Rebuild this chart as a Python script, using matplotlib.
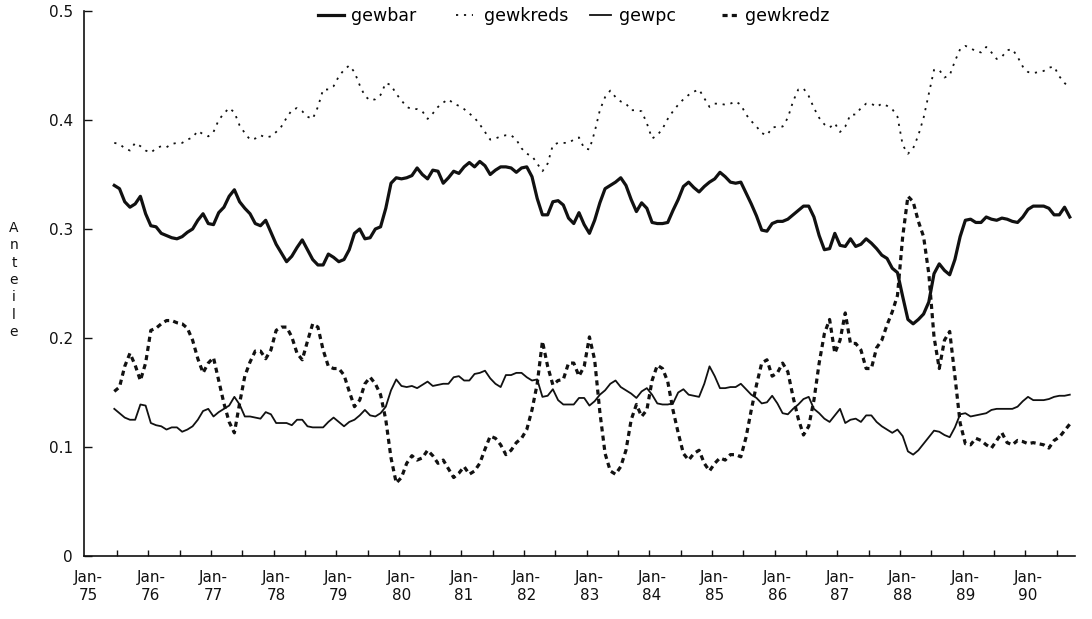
import numpy as np
import matplotlib
matplotlib.use("Agg")
import matplotlib.pyplot as plt

plt.rcParams['font.family'] = ['DejaVu Sans']

# months since Jan-1975 of first observation (Jun-1975), monthly data
start_month = 5

year_labels = ["Jan-\n75", "Jan-\n76", "Jan-\n77", "Jan-\n78", "Jan-\n79", "Jan-\n80",
               "Jan-\n81", "Jan-\n82", "Jan-\n83", "Jan-\n84", "Jan-\n85", "Jan-\n86",
               "Jan-\n87", "Jan-\n88", "Jan-\n89", "Jan-\n90"]

gewbar = [0.340, 0.337, 0.325, 0.320, 0.323, 0.330, 0.314, 0.303, 0.302, 0.296, 0.294, 0.292,
          0.291, 0.293, 0.297, 0.300, 0.308, 0.314, 0.305, 0.304, 0.315, 0.320, 0.330, 0.336,
          0.325, 0.319, 0.314, 0.305, 0.303, 0.308, 0.297, 0.286, 0.278, 0.270, 0.275, 0.283,
          0.290, 0.281, 0.272, 0.267, 0.267, 0.277, 0.274, 0.270, 0.272, 0.281, 0.296, 0.300,
          0.291, 0.292, 0.300, 0.302, 0.319, 0.342, 0.347, 0.346, 0.347, 0.349, 0.356, 0.350,
          0.346, 0.354, 0.353, 0.342, 0.347, 0.353, 0.351, 0.357, 0.361, 0.357, 0.362, 0.358,
          0.350,
          0.354, 0.357, 0.357, 0.356, 0.352, 0.356, 0.357, 0.348, 0.328, 0.313, 0.313, 0.325,
          0.326, 0.322, 0.310, 0.305, 0.315, 0.304, 0.296, 0.308, 0.324, 0.337, 0.340, 0.343,
          0.347, 0.340, 0.327, 0.316, 0.324, 0.319, 0.306, 0.305, 0.305, 0.306, 0.317, 0.327,
          0.339, 0.343,
          0.338, 0.334, 0.339, 0.343, 0.346, 0.352, 0.348, 0.343, 0.342, 0.343, 0.333, 0.323,
          0.312, 0.299, 0.298, 0.305, 0.307, 0.307, 0.309, 0.313, 0.317, 0.321, 0.321, 0.311,
          0.294, 0.281, 0.282, 0.296, 0.285, 0.284, 0.291, 0.284, 0.286, 0.291, 0.287, 0.282,
          0.276,
          0.273, 0.264, 0.260, 0.238, 0.217, 0.213, 0.217, 0.222, 0.233, 0.259, 0.268, 0.262,
          0.258, 0.272, 0.293, 0.308, 0.309, 0.306, 0.306, 0.311, 0.309, 0.308, 0.310, 0.309,
          0.307, 0.306, 0.311, 0.318, 0.321, 0.321, 0.321, 0.319, 0.313, 0.313, 0.320, 0.311]

gewkreds = [0.379, 0.378, 0.374, 0.372, 0.379, 0.376, 0.372, 0.370, 0.374, 0.376, 0.375, 0.378,
            0.379, 0.379, 0.382, 0.384, 0.390, 0.387, 0.385, 0.389, 0.400, 0.406, 0.411, 0.407,
            0.395, 0.388, 0.382, 0.383, 0.386, 0.384, 0.385, 0.389, 0.394, 0.402, 0.409, 0.411,
            0.408, 0.403, 0.401, 0.412, 0.428, 0.428, 0.431, 0.440, 0.446, 0.450, 0.444, 0.432,
            0.422, 0.418, 0.419, 0.423, 0.434, 0.432, 0.424, 0.418, 0.412, 0.410, 0.410, 0.408,
            0.401, 0.406, 0.412, 0.416, 0.419, 0.415, 0.413, 0.410, 0.406, 0.402, 0.396, 0.389,
            0.382,
            0.383, 0.385, 0.386, 0.386, 0.382, 0.374, 0.369, 0.367, 0.360, 0.353, 0.360, 0.377,
            0.379, 0.379, 0.379, 0.382, 0.384, 0.374, 0.373, 0.389, 0.409, 0.421, 0.427, 0.421,
            0.417, 0.415, 0.409, 0.409, 0.408, 0.397, 0.383, 0.386, 0.392, 0.401, 0.408, 0.414,
            0.419, 0.423,
            0.426, 0.428, 0.420, 0.412, 0.415, 0.415, 0.414, 0.415, 0.417, 0.414, 0.405, 0.399,
            0.394, 0.388, 0.386, 0.393, 0.394, 0.394, 0.402, 0.417, 0.428, 0.429, 0.422, 0.411,
            0.402, 0.396, 0.393, 0.397, 0.389, 0.394, 0.405, 0.405, 0.411, 0.415, 0.415, 0.412,
            0.415,
            0.413, 0.410, 0.403, 0.377, 0.369, 0.374, 0.386, 0.402, 0.424, 0.446, 0.446, 0.439,
            0.441, 0.454, 0.465, 0.468, 0.466, 0.463, 0.462, 0.467, 0.462, 0.456, 0.458, 0.464,
            0.465, 0.458, 0.449, 0.444, 0.443, 0.444, 0.445, 0.448, 0.449, 0.440, 0.434, 0.429]

gewpc = [0.135, 0.131, 0.127, 0.125, 0.125, 0.139, 0.138, 0.122, 0.120, 0.119, 0.116, 0.118,
         0.118, 0.114, 0.116, 0.119, 0.125, 0.133, 0.135, 0.128, 0.132, 0.135, 0.138, 0.146,
         0.139, 0.128, 0.128, 0.127, 0.126, 0.132, 0.130, 0.122, 0.122, 0.122, 0.120, 0.125,
         0.125, 0.119, 0.118, 0.118, 0.118, 0.123, 0.127, 0.123, 0.119, 0.123, 0.125, 0.129,
         0.134, 0.129, 0.128, 0.131, 0.137, 0.152, 0.162, 0.156, 0.155, 0.156, 0.154, 0.157,
         0.160, 0.156, 0.157, 0.158, 0.158, 0.164, 0.165, 0.161, 0.161, 0.167, 0.168, 0.170,
         0.163,
         0.158, 0.155, 0.166, 0.166, 0.168, 0.168, 0.164, 0.161, 0.162, 0.146, 0.147, 0.153,
         0.143, 0.139, 0.139, 0.139, 0.145, 0.145, 0.138, 0.142, 0.148, 0.152, 0.158, 0.161,
         0.155, 0.152, 0.149, 0.145, 0.151, 0.154, 0.148, 0.140, 0.139, 0.139, 0.140, 0.150,
         0.153, 0.148,
         0.147, 0.146, 0.158, 0.174, 0.165, 0.154, 0.154, 0.155, 0.155, 0.158, 0.153, 0.148,
         0.145, 0.140, 0.141, 0.147, 0.140, 0.131, 0.130, 0.135, 0.139, 0.144, 0.146, 0.135,
         0.131, 0.126, 0.123, 0.129, 0.135, 0.122, 0.125, 0.126, 0.123, 0.129, 0.129, 0.123,
         0.119,
         0.116, 0.113, 0.116, 0.110, 0.096, 0.093, 0.097, 0.103, 0.109, 0.115, 0.114, 0.111,
         0.109, 0.118, 0.130, 0.131, 0.128, 0.129, 0.130, 0.131, 0.134, 0.135, 0.135, 0.135,
         0.135, 0.137, 0.142, 0.146, 0.143, 0.143, 0.143, 0.144, 0.146, 0.147, 0.147, 0.148]

gewkredz = [0.151, 0.155, 0.174, 0.186, 0.175, 0.161, 0.177, 0.207, 0.209, 0.213, 0.216, 0.216,
            0.214, 0.213, 0.209, 0.198, 0.181, 0.168, 0.177, 0.182, 0.161, 0.140, 0.123, 0.113,
            0.140, 0.165, 0.178, 0.188, 0.188, 0.181, 0.189, 0.207, 0.210, 0.210, 0.201, 0.186,
            0.180, 0.197, 0.213, 0.210, 0.189, 0.174, 0.172, 0.172, 0.166, 0.151, 0.137, 0.143,
            0.158, 0.164, 0.158, 0.148, 0.125, 0.090, 0.067, 0.072, 0.085, 0.092, 0.088, 0.090,
            0.097, 0.092, 0.085, 0.088, 0.080, 0.072, 0.076, 0.082, 0.075, 0.078, 0.085, 0.098,
            0.110,
            0.108, 0.102, 0.093, 0.097, 0.104, 0.108, 0.116, 0.134, 0.158, 0.197, 0.174, 0.157,
            0.161, 0.162, 0.177, 0.177, 0.165, 0.174, 0.201, 0.180, 0.132, 0.094, 0.078, 0.075,
            0.082, 0.097, 0.125, 0.139, 0.128, 0.134, 0.161, 0.175, 0.172, 0.160, 0.134, 0.113,
            0.094, 0.088,
            0.094, 0.097, 0.085, 0.078, 0.085, 0.090, 0.088, 0.093, 0.093, 0.091, 0.109, 0.134,
            0.157, 0.177, 0.180, 0.165, 0.168, 0.177, 0.169, 0.146, 0.126, 0.111, 0.119, 0.143,
            0.177, 0.204, 0.217, 0.186, 0.198, 0.223, 0.195, 0.195, 0.189, 0.172, 0.172, 0.191,
            0.198,
            0.212, 0.224, 0.239, 0.293, 0.330, 0.325, 0.307, 0.293, 0.259, 0.201, 0.172, 0.198,
            0.206, 0.165, 0.122, 0.103, 0.102, 0.108, 0.106, 0.102, 0.099, 0.106, 0.113, 0.104,
            0.102, 0.106, 0.105, 0.103, 0.104, 0.103, 0.102, 0.099, 0.106, 0.109, 0.115, 0.121]

months = start_month + np.arange(len(gewbar))

W, H = 1092, 619
fig = plt.figure(figsize=(W / 100, H / 100), dpi=100)
ax = fig.add_axes([84 / W, 1 - 556 / H, (1075 - 84) / W, (556 - 11) / H])

ink = '#111111'
l_bar, = ax.plot(months, gewbar, color=ink, lw=2.3, solid_joinstyle='round', label='gewbar')
l_kreds, = ax.plot(months, gewkreds, color=ink, lw=1.3, linestyle=(0, (1.2, 3.2)), label='gewkreds')
l_pc, = ax.plot(months, gewpc, color=ink, lw=1.3, solid_joinstyle='round', label='gewpc')
l_kredz, = ax.plot(months, gewkredz, color=ink, lw=2.3, linestyle=(0, (1.6, 1.3)), label='gewkredz')

ax.set_ylim(0, 0.5)
ax.set_xlim(-0.8, 189)
ax.set_yticks([0, 0.1, 0.2, 0.3, 0.4, 0.5])
ax.set_yticklabels(['0', '0.1', '0.2', '0.3', '0.4', '0.5'])
ax.tick_params(axis='y', direction='in', length=6, width=1, pad=8, labelsize=11, colors=ink)

ax.set_xticks(np.arange(0, 181, 12))
ax.set_xticklabels(year_labels, linespacing=1.25)
ax.set_xticks(5.5 + np.arange(0, 181, 6), minor=True)
ax.tick_params(axis='x', which='major', length=0, pad=10, labelsize=11, colors=ink)
ax.tick_params(axis='x', which='minor', direction='in', length=4, width=1, colors=ink)

for s in ['top', 'right']:
    ax.spines[s].set_visible(False)
for s in ['left', 'bottom']:
    ax.spines[s].set_color(ink)
    ax.spines[s].set_linewidth(1.2)

fig.text(14 / W, 1 - 280 / H, "A\nn\nt\ne\ni\nl\ne", ha='center', va='center',
         fontsize=10, linespacing=1.3, color=ink)

# legend entries placed individually along the top
entries = [(l_bar, 318, 1.5, 0.4), (l_kreds, 456, 1.0, 0.6),
           (l_pc, 590, 1.2, 0.45), (l_kredz, 722, 0.85, 0.45)]
for handle, xpx, hl, tp in entries:
    fig.legend(handles=[handle], loc='center left', bbox_to_anchor=(xpx / W, 1 - 16 / H),
               frameon=False, fontsize=12.5, handlelength=hl, handletextpad=tp,
               borderpad=0, borderaxespad=0)

fig.savefig('out.png', dpi=100)
